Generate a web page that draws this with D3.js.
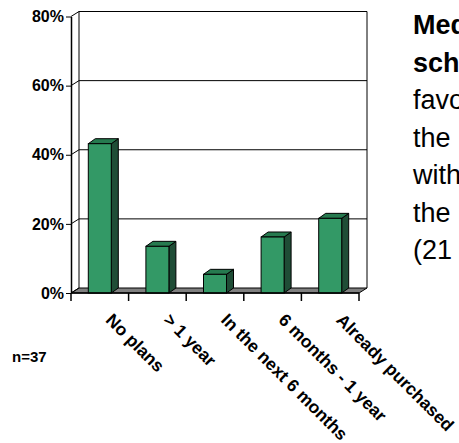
<!DOCTYPE html>
<html><head><meta charset="utf-8">
<script src="https://cdn.jsdelivr.net/npm/d3@7"></script>
<style>body{margin:0;background:#fff}svg{display:block}</style>
</head><body>
<script>
const categories = ["No plans", "> 1 year", "In the next 6 months", "6 months - 1 year", "Already purchased"];
const values = [43.2, 13.5, 5.4, 16.2, 21.6];
const yTicks = [0, 20, 40, 60, 80];
const sideText = [
  {t: "Media", bold: true},
  {t: "schools", bold: true},
  {t: "favor", bold: false},
  {t: "the", bold: false},
  {t: "with", bold: false},
  {t: "the", bold: false},
  {t: "(21", bold: false}
];
const note = "n=37";

const W = 459, H = 443;
const svg = d3.select("body").append("svg").attr("width", W).attr("height", H);
const font = "Liberation Sans, Arial, sans-serif";

const x0 = 71, x1 = 359, yBottom = 293, yTop = 16.5;
const DX = 8, DY = -5;       // wall depth
const BDX = 7, BDY = -5;     // bar depth

const x = d3.scaleBand().domain(categories).range([x0, x1]).paddingInner(0).paddingOuter(0);
const y = d3.scaleLinear().domain([0, 80]).range([yBottom, yTop]);

// floor
svg.append("path")
  .attr("d", `M${x0},${yBottom}L${x1},${yBottom}L${x1+DX},${yBottom+DY}L${x0+DX},${yBottom+DY}Z`)
  .attr("fill", "#808080").attr("stroke", "#000").attr("stroke-width", 1);

// back wall gridlines & left wall diagonals
yTicks.forEach(v => {
  const yy = y(v);
  if (v > 0) {
    svg.append("line").attr("x1", x0+DX).attr("x2", x1+DX).attr("y1", yy+DY).attr("y2", yy+DY)
      .attr("stroke", "#000").attr("stroke-width", 1);
  }
  svg.append("line").attr("x1", x0).attr("x2", x0+DX).attr("y1", yy).attr("y2", yy+DY)
    .attr("stroke", "#000").attr("stroke-width", 1);
});
// back wall verticals
svg.append("line").attr("x1", x0+DX).attr("x2", x0+DX).attr("y1", y(80)+DY).attr("y2", yBottom+DY).attr("stroke", "#000");
svg.append("line").attr("x1", x1+DX).attr("x2", x1+DX).attr("y1", y(80)+DY).attr("y2", yBottom+DY).attr("stroke", "#000");

// y axis
const yAxis = d3.axisLeft(y).tickValues(yTicks).tickFormat(d => d + "%").tickSize(5).tickSizeOuter(0);
const gy = svg.append("g").attr("transform", `translate(${x0},0)`).call(yAxis);
gy.select(".domain").attr("stroke", "#000").attr("stroke-width", 1.5);
gy.selectAll(".tick line").attr("stroke", "#000");
gy.selectAll(".tick text").attr("font-family", font).attr("font-weight", "bold").attr("font-size", 16).attr("fill", "#000").attr("x", -7);

// bars
const bw = 23;
const bars = svg.append("g");
categories.forEach((c, i) => {
  const cx = x(c) + x.bandwidth() / 2;
  const l = cx - bw / 2, r = cx + bw / 2, t = y(values[i]), b = yBottom;
  bars.append("path").attr("d", `M${r},${t}L${r+BDX},${t+BDY}L${r+BDX},${b+BDY}L${r},${b}Z`)
    .attr("fill", "#1f4d36").attr("stroke", "#000").attr("stroke-width", 1);
  bars.append("path").attr("d", `M${l},${t}L${l+BDX},${t+BDY}L${r+BDX},${t+BDY}L${r},${t}Z`)
    .attr("fill", "#267a4f").attr("stroke", "#000").attr("stroke-width", 1);
  bars.append("rect").attr("x", l).attr("y", t).attr("width", bw).attr("height", b - t)
    .attr("fill", "#339966").attr("stroke", "#000").attr("stroke-width", 1);
});

// x axis
const gx = svg.append("g").attr("transform", `translate(0,${yBottom})`);
gx.append("line").attr("x1", x0).attr("x2", x1).attr("y1", 0).attr("y2", 0).attr("stroke", "#000").attr("stroke-width", 1.5);
const bounds = categories.map(c => x(c)).concat([x1]);
gx.selectAll(".bt").data(bounds).enter().append("line")
  .attr("x1", d => d).attr("x2", d => d).attr("y1", 0).attr("y2", 8).attr("stroke", "#000").attr("stroke-width", 1.5);
gx.selectAll(".lbl").data(categories).enter().append("text")
  .attr("transform", d => `translate(${x(d) + x.bandwidth()/2 + 5},28) rotate(45)`)
  .attr("font-family", font).attr("font-weight", "bold").attr("font-size", 17.5).attr("fill", "#000")
  .text(d => d);

// n=37
svg.append("text").attr("x", 12).attr("y", 362).attr("font-family", font).attr("font-weight", "bold")
  .attr("font-size", 15).attr("fill", "#000").text(note);

// side text
svg.append("g").selectAll("text").data(sideText).enter().append("text")
  .attr("x", 413).attr("y", (d, i) => 34 + i * 37.5)
  .attr("font-family", font).attr("font-size", 27).attr("font-weight", d => d.bold ? "bold" : "normal")
  .attr("fill", "#000").text(d => d.t);
</script>
</body></html>
